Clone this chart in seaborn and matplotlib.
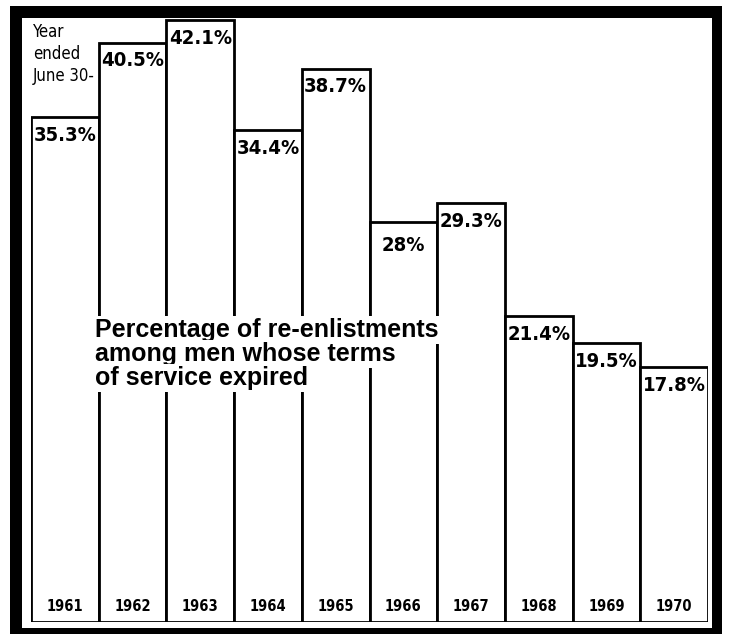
import numpy as np
import pandas as pd
import seaborn as sns
import matplotlib.pyplot as plt
from matplotlib.patches import Rectangle

years = ['1961', '1962', '1963', '1964', '1965', '1966', '1967', '1968', '1969', '1970']
rates = [35.3, 40.5, 42.1, 34.4, 38.7, 28.0, 29.3, 21.4, 19.5, 17.8]
rate_labels = ['35.3%', '40.5%', '42.1%', '34.4%', '38.7%', '28%', '29.3%', '21.4%', '19.5%', '17.8%']
title_lines = ['Percentage of re-enlistments', 'among men whose terms', 'of service expired']
note = 'Year\nended\nJune 30-'

df = pd.DataFrame({'year': years, 'rate': rates})

sns.set_theme(style='white')
plt.rcParams['font.family'] = ['Liberation Sans', 'DejaVu Sans']
narrow = dict(family=['DejaVu Sans'], fontstretch='condensed')

W, H = 733, 634
fig = plt.figure(figsize=(W / 100, H / 100), dpi=100)
fig.patch.set_facecolor('white')

# thick black frame round the plot
fig.patches.append(Rectangle((10 / W, 0), 712 / W, 628 / H, transform=fig.transFigure,
                             facecolor='black', edgecolor='none', zorder=-3))
fig.patches.append(Rectangle((22 / W, 6 / H), 690 / W, 610 / H, transform=fig.transFigure,
                             facecolor='white', edgecolor='none', zorder=-2))

ax = fig.add_axes([31 / W, 12 / H, 677 / W, 604 / H])
ax.patch.set_alpha(0)
sns.barplot(data=df, x='year', y='rate', color='white', edgecolor='black',
            linewidth=2, width=1.0, saturation=1, ax=ax)
ax.set_xlim(-0.5, len(years) - 0.5)
ax.set_ylim(0, 42.24)
ax.set_axis_off()

for i, (v, lab) in enumerate(zip(rates, rate_labels)):
    off = 1.0 if lab == '28%' else 0.6
    ax.text(i, v - off, lab, ha='center', va='top', fontsize=14.5,
            fontweight='bold', color='black', **narrow)
    ax.text(i, 0.75, years[i], ha='center', va='baseline', fontsize=10.5,
            fontweight='bold', color='black', **narrow)

fig.text(33 / W, 1 - 23 / H, note, ha='left', va='top', fontsize=12,
         color='black', linespacing=1.3, **narrow)

for k, line in enumerate(title_lines):
    ax.text((95 - 31) / 677, (622 - 337 - 24 * k) / 604, line, transform=ax.transAxes,
            ha='left', va='baseline', fontsize=18, fontweight='bold', color='black',
            bbox=dict(facecolor='white', edgecolor='none', pad=1.5))

fig.savefig('out.png', dpi=100)
